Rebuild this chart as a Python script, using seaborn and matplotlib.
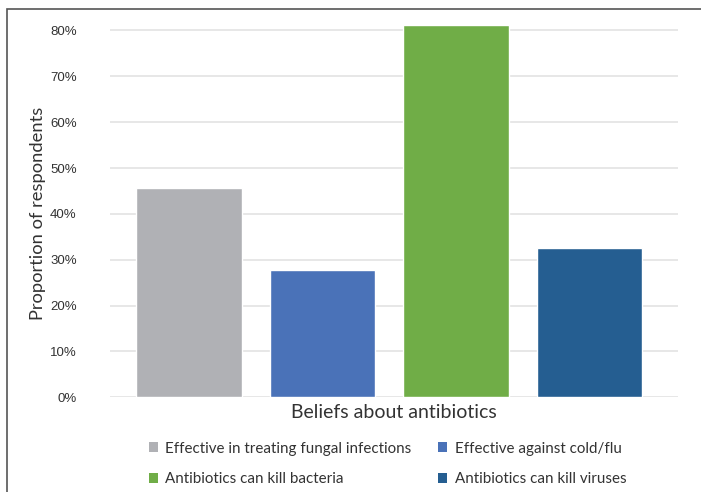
import matplotlib
matplotlib.use("Agg")
import matplotlib.pyplot as plt
from matplotlib.patches import Rectangle, Patch
from matplotlib.ticker import PercentFormatter
import seaborn as sns
import pandas as pd

beliefs = [
    "Effective in treating fungal infections",
    "Effective against cold/flu",
    "Antibiotics can kill bacteria",
    "Antibiotics can kill viruses",
]
proportions = [0.457, 0.278, 0.811, 0.326]
colors = ["#B0B1B5", "#4A72B8", "#70AD47", "#255E91"]
yticks = [0.0, 0.1, 0.2, 0.3, 0.4, 0.5, 0.6, 0.7, 0.8]

df = pd.DataFrame({"belief": beliefs, "proportion": proportions})

sns.set_theme(style="white")
plt.rcParams["font.family"] = ["Lato", "DejaVu Sans"]

fig = plt.figure(figsize=(7.01, 4.92), dpi=100)
ax = fig.add_axes([0.157, 0.1925, 0.81, 0.7642])

sns.barplot(data=df, x="belief", y="proportion", hue="belief",
            palette=colors, order=beliefs, hue_order=beliefs,
            width=0.79, dodge=False, legend=False, ax=ax, saturation=1)

ax.set_ylim(0, 0.82)
ax.set_xlim(-0.59, 3.66)
ax.set_yticks(yticks)
ax.yaxis.set_major_formatter(PercentFormatter(1.0, decimals=0))
ax.set_xticks([])
ax.grid(axis="y", color="#E3E3E3", linewidth=1.2)
ax.set_axisbelow(True)
for s in ax.spines.values():
    s.set_visible(False)
ax.tick_params(axis="y", length=0, pad=24, labelcolor="#333333")
for lab in ax.get_yticklabels():
    lab.set_family(["Liberation Sans", "DejaVu Sans"])
    lab.set_fontsize(9.5)

ax.set_xlabel("Beliefs about antibiotics", fontsize=14, color="#333333", labelpad=5)
ax.set_ylabel("Proportion of respondents", fontsize=13.2, color="#333333")
ax.yaxis.set_label_coords(-0.113, 0.49)

# legend filled row by row: two entries per row
order = [0, 2, 1, 3]
handles = [Patch(facecolor=colors[i], edgecolor="none") for i in order]
labels = [beliefs[i] for i in order]
fig.legend(handles, labels, ncol=2, loc="center", bbox_to_anchor=(0.553, 0.057),
           frameon=False, fontsize=10.9, handlelength=0.6, handleheight=0.6,
           handletextpad=0.5, columnspacing=1.75, labelspacing=1.1,
           labelcolor="#333333")

# outer frame of the figure panel
fig.patches.append(Rectangle((7 / 701, -0.05), 1.2, 1 - 9 / 492 + 0.05,
                             transform=fig.transFigure, fill=False,
                             edgecolor="#555555", linewidth=1.2))

fig.savefig("out.png", dpi=100)
